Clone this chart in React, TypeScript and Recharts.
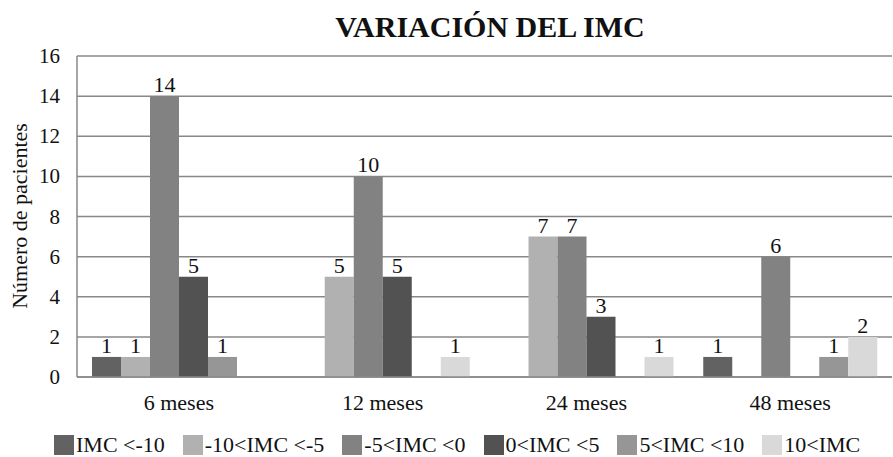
import { BarChart, Bar, XAxis, YAxis, CartesianGrid, LabelList } from "recharts";

const periods = ["6 meses", "12 meses", "24 meses", "48 meses"];

const ranges = [
  "IMC <-10",
  "-10<IMC <-5",
  "-5<IMC <0",
  "0<IMC <5",
  "5<IMC <10",
  "10<IMC",
];

// patients per period, one array per IMC range
const imcMenos10 = [1, 0, 0, 1];
const imcMenos10a5 = [1, 5, 7, 0];
const imcMenos5a0 = [14, 10, 7, 6];
const imc0a5 = [5, 5, 3, 0];
const imc5a10 = [1, 0, 0, 1];
const imc10 = [0, 1, 1, 2];

const yTicks = [0, 2, 4, 6, 8, 10, 12, 14, 16];

const colors = ["#626262", "#b1b1b1", "#828282", "#525252", "#969696", "#d9d9d9"];

const seriesValues = [imcMenos10, imcMenos10a5, imcMenos5a0, imc0a5, imc5a10, imc10];
const keys = ["s0", "s1", "s2", "s3", "s4", "s5"];

const data = periods.map((p, i) => {
  const row: Record<string, string | number> = { periodo: p };
  seriesValues.forEach((vals, k) => {
    row[keys[k]] = vals[i];
  });
  return row;
});

const FONT = "Liberation Serif";

const fontCss = `html body #root .imc-chart, html body #root .imc-chart * { font-family: "Liberation Serif" !important; }`;

// hide labels for empty bars
const renderLabel = (props: any) => {
  const { x, y, width, value } = props;
  if (!value) return null;
  return (
    <text
      x={Number(x) + Number(width) / 2}
      y={Number(y) - 4}
      textAnchor="middle"
      style={{ fontFamily: FONT, fontSize: 22 }}
      fill="#111"
    >
      {value}
    </text>
  );
};

const XTick = (props: any) => {
  const { x, y, payload } = props;
  return (
    <text x={x} y={Number(y) + 31} textAnchor="middle" fill="#111" style={{ fontFamily: FONT, fontSize: 22 }}>
      {payload.value}
    </text>
  );
};

const YTick = (props: any) => {
  const { x, y, payload } = props;
  return (
    <text x={Number(x) - 15} y={Number(y) + 7} textAnchor="end" fill="#111" style={{ fontFamily: FONT, fontSize: 21 }}>
      {payload.value}
    </text>
  );
};

export default function App() {
  return (
    <div
      className="imc-chart"
      style={{
        position: "absolute",
        left: 0,
        top: 0,
        width: 893,
        height: 457,
        background: "#fff",
        fontFamily: FONT,
      }}
    >
      <style>{fontCss}</style>
      <div
        style={{
          position: "absolute",
          left: 0,
          width: 980,
          top: 10,
          textAlign: "center",
          fontWeight: "bold",
          fontSize: 30,
          color: "#111",
          lineHeight: "34px",
        }}
      >
        VARIACIÓN DEL IMC
      </div>
      <div
        style={{
          position: "absolute",
          left: 20,
          top: 216,
          transform: "translate(-50%, -50%) rotate(-90deg)",
          whiteSpace: "nowrap",
          fontSize: 22,
          color: "#111",
        }}
      >
        Número de pacientes
      </div>
      <BarChart
        width={893}
        height={457}
        data={data}
        margin={{ top: 56, right: 1, bottom: 56, left: 27 }}
        barGap={0}
        barCategoryGap={15}
      >
        <CartesianGrid vertical={false} stroke="#888" strokeWidth={1.5} />
        <XAxis
          dataKey="periodo"
          axisLine={{ stroke: "#888", strokeWidth: 1.5 }}
          tickLine={false}
          tickSize={0}
          tick={<XTick />}
          height={24}
        />
        <YAxis
          width={50}
          domain={[0, 16]}
          ticks={yTicks}
          interval={0}
          axisLine={{ stroke: "#888", strokeWidth: 1.5 }}
          tickLine={false}
          tickSize={0}
          tick={<YTick />}
        />
        {keys.map((k, i) => (
          <Bar key={k} dataKey={k} name={ranges[i]} fill={colors[i]} isAnimationActive={false}>
            <LabelList dataKey={k} content={renderLabel} />
          </Bar>
        ))}
      </BarChart>
      <div
        style={{
          position: "absolute",
          left: 54,
          top: 432,
          display: "flex",
          alignItems: "center",
          fontSize: 22,
          color: "#111",
          whiteSpace: "nowrap",
        }}
      >
        {ranges.map((r, i) => (
          <span key={r} style={{ display: "flex", alignItems: "center", marginRight: 18 }}>
            <span
              style={{
                display: "inline-block",
                width: 20,
                height: 20,
                background: colors[i],
                marginRight: 2,
              }}
            />
            {r}
          </span>
        ))}
      </div>
    </div>
  );
}
